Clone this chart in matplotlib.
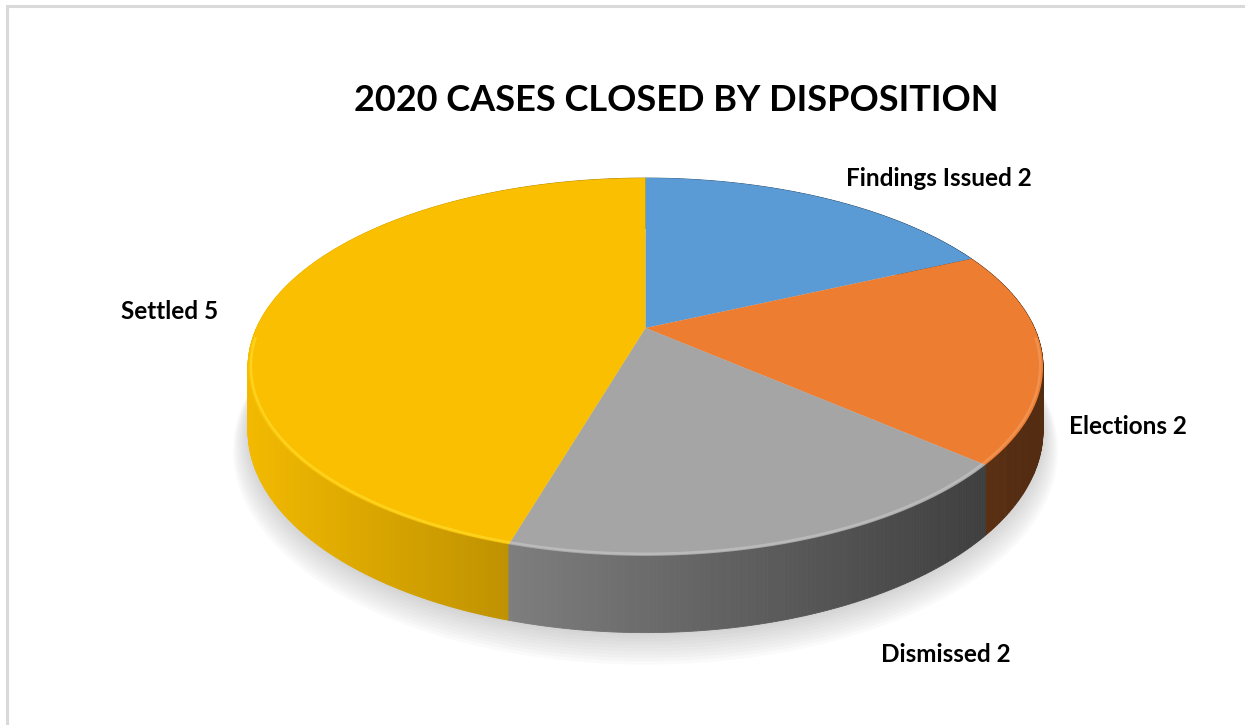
"""
2020 cases closed by disposition -- Excel-style 3D pie, drawn by hand
in pixel coordinates (perspective top face + shaded side wall).
"""
import numpy as np
import matplotlib.pyplot as plt
from matplotlib.patches import Polygon
from matplotlib.colors import to_rgb

plt.rcParams["font.family"] = ["Lato", "DejaVu Sans"]

TITLE = "2020 CASES CLOSED BY DISPOSITION"
categories = ["Findings Issued", "Elections", "Dismissed", "Settled"]
counts = [2, 2, 2, 5]
colors = ["#5B9BD5", "#ED7D31", "#A5A5A5", "#FABF00"]
rim_colors = ["#8fbde6", "#f4a066", "#c9c9c9", "#FFE033"]
label_pos = [(939, 178), (1128, 426), (946, 655), (170, 311)]

# perspective model of the pie plane (pixel space)
CX, C_X = 645.5, 389.0
A_Y, B_Y = 328.0, 113.3
K = 0.206
THICK = 61.0


def project(theta, drop=0.0, r=1.0):
    """theta measured clockwise from 12 o'clock, on the unit disc."""
    u = r * np.sin(theta)
    v = -r * np.cos(theta)
    d = 1 - K * v
    return CX + C_X * u / d, (A_Y + B_Y * v + drop) / d


def shade(x):
    return np.clip(0.97 - 0.60 * (x - 250) / 750, 0.35, 1.0)


def make_figure():
    fig = plt.figure(figsize=(12.45, 7.25), dpi=100)
    ax = fig.add_axes([0, 0, 1, 1])
    ax.set_xlim(0, 1245)
    ax.set_ylim(725, 0)
    ax.axis("off")

    # chart border (left + top only visible)
    ax.plot([7, 7, 1245], [725, 6, 6], color="#d9d9d9", lw=2.2,
            solid_joinstyle="miter", zorder=0)

    frac = np.array(counts, dtype=float) / sum(counts)
    bounds = np.concatenate([[0], np.cumsum(frac)]) * 2 * np.pi

    # soft shadow under the pie
    th = np.linspace(0, 2 * np.pi, 400)
    for i in range(10):
        bx, by = project(th, drop=THICK + 2 + i * 1.6, r=1.0 + i * 0.004)
        ax.add_patch(Polygon(np.column_stack([bx, by]), closed=True,
                             facecolor="#808080", alpha=0.035,
                             edgecolor="none", zorder=1))

    # side wall, built from thin quads, back to front
    quads = []
    for k in range(len(counts)):
        base = np.array(to_rgb(colors[k]))
        ts = np.linspace(bounds[k], bounds[k + 1],
                         max(int(frac[k] * 720), 4))
        for t0, t1 in zip(ts[:-1], ts[1:]):
            x0, y0 = project(t0)
            x1, y1 = project(t1)
            x2, y2 = project(t1, THICK)
            x3, y3 = project(t0, THICK)
            depth = -np.cos((t0 + t1) / 2)
            col = np.clip(base * shade((x0 + x1) / 2), 0, 1)
            quads.append((depth, [(x0, y0), (x1, y1), (x2, y2), (x3, y3)],
                          col))
    quads.sort(key=lambda q: q[0])
    for _, pts, col in quads:
        ax.add_patch(Polygon(pts, closed=True, facecolor=col,
                             edgecolor=col, lw=0.6, zorder=2))

    # top faces
    cx0, cy0 = project(0.0, r=0.0)
    for k in range(len(counts)):
        ts = np.linspace(bounds[k], bounds[k + 1], 200)
        ex, ey = project(ts)
        pts = np.column_stack([np.r_[cx0, ex], np.r_[cy0, ey]])
        ax.add_patch(Polygon(pts, closed=True, facecolor=colors[k],
                             edgecolor="none", zorder=3))
        # bevel highlight along the near rim
        near = -np.cos(ts) > 0.05
        if near.any():
            rx, ry = project(ts[near], r=0.993)
            ax.plot(rx, ry, color=rim_colors[k], lw=1.8, alpha=0.6,
                    solid_capstyle="butt", zorder=4)

    ax.text(676, 100, TITLE, ha="center", va="center", fontsize=26,
            fontweight="bold", color="black")
    for name, n, (lx, ly) in zip(categories, counts, label_pos):
        ax.text(lx, ly, f"{name} {n}", ha="center", va="center",
                fontsize=17.5, fontweight="bold", color="black")

    fig.savefig("out.png", dpi=100)


if __name__ == "__main__":
    make_figure()
